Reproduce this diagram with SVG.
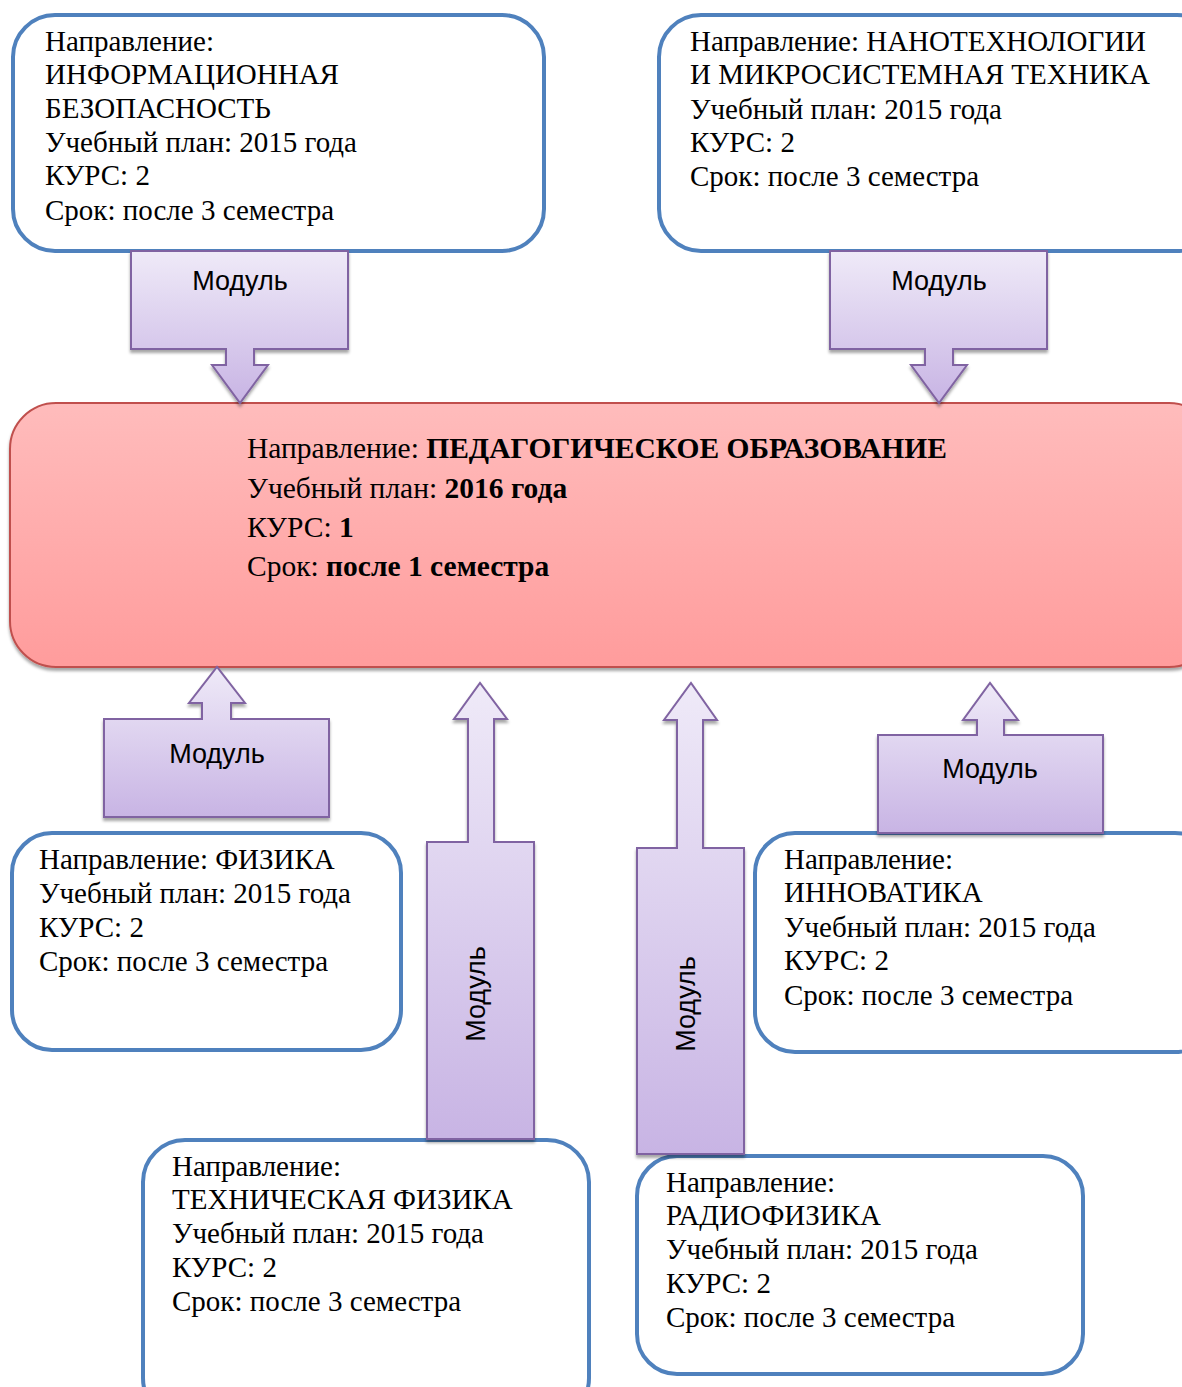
<svg xmlns="http://www.w3.org/2000/svg" width="1182" height="1387" viewBox="0 0 1182 1387">
<defs>
<linearGradient id="gPurple" x1="0" y1="0" x2="0" y2="1">
<stop offset="0" stop-color="#EFEAF8"/>
<stop offset="1" stop-color="#C8B4E4"/>
</linearGradient>
<linearGradient id="gRed" x1="0" y1="0" x2="0" y2="1">
<stop offset="0" stop-color="#FFBCBC"/>
<stop offset="1" stop-color="#FF9C9C"/>
</linearGradient>
<filter id="sh" x="-10%" y="-10%" width="120%" height="130%">
<feDropShadow dx="0" dy="3" stdDeviation="1.5" flood-color="#000" flood-opacity="0.35"/>
</filter>
</defs>
<style>
.box{fill:#FFFFFF;stroke:#4F81BD;stroke-width:4}
.main{fill:url(#gRed);stroke:#C0504D;stroke-width:2;filter:url(#sh)}
.mod{fill:url(#gPurple);stroke:#8064A2;stroke-width:2;stroke-linejoin:miter;filter:url(#sh)}
.t{font-family:"Liberation Serif","Times New Roman",serif;font-size:29px;fill:#000}
.tc{font-size:29.5px}
.b{font-weight:bold}
.m{font-family:"Liberation Sans",Arial,sans-serif;font-size:27px;fill:#000;text-anchor:middle}
</style>
<rect width="1182" height="1387" fill="#FFFFFF"/>

<g id="node-infobez">
<rect class="box" x="13" y="15" width="531" height="236" rx="42"/>
<text class="t" x="45" y="51">Направление:</text>
<text class="t" x="45" y="84">ИНФОРМАЦИОННАЯ</text>
<text class="t" x="45" y="118">БЕЗОПАСНОСТЬ</text>
<text class="t" x="45" y="152">Учебный план: 2015 года</text>
<text class="t" x="45" y="185">КУРС: 2</text>
<text class="t" x="45" y="220">Срок: после 3 семестра</text>
</g>

<g id="node-nano">
<rect class="box" x="659" y="15" width="560" height="236" rx="42"/>
<text class="t" x="690" y="51">Направление: НАНОТЕХНОЛОГИИ</text>
<text class="t" x="690" y="84">И МИКРОСИСТЕМНАЯ ТЕХНИКА</text>
<text class="t" x="690" y="119">Учебный план: 2015 года</text>
<text class="t" x="690" y="152">КУРС: 2</text>
<text class="t" x="690" y="186">Срок: после 3 семестра</text>
</g>

<g id="node-fizika">
<rect class="box" x="12" y="833" width="389" height="217" rx="40"/>
<text class="t" x="39" y="869">Направление: ФИЗИКА</text>
<text class="t" x="39" y="903">Учебный план: 2015 года</text>
<text class="t" x="39" y="937">КУРС: 2</text>
<text class="t" x="39" y="971">Срок: после 3 семестра</text>
</g>

<g id="node-innovatika">
<rect class="box" x="755" y="833" width="460" height="219" rx="40"/>
<text class="t" x="784" y="869">Направление:</text>
<text class="t" x="784" y="902">ИННОВАТИКА</text>
<text class="t" x="784" y="937">Учебный план: 2015 года</text>
<text class="t" x="784" y="970">КУРС: 2</text>
<text class="t" x="784" y="1005">Срок: после 3 семестра</text>
</g>

<g id="node-tehfiz">
<rect class="box" x="143" y="1140" width="446" height="280" rx="42"/>
<text class="t" x="172" y="1176">Направление:</text>
<text class="t" x="172" y="1209">ТЕХНИЧЕСКАЯ ФИЗИКА</text>
<text class="t" x="172" y="1243">Учебный план: 2015 года</text>
<text class="t" x="172" y="1277">КУРС: 2</text>
<text class="t" x="172" y="1311">Срок: после 3 семестра</text>
</g>

<g id="node-radiofiz">
<rect class="box" x="637" y="1156" width="446" height="218" rx="40"/>
<text class="t" x="666" y="1192">Направление:</text>
<text class="t" x="666" y="1225">РАДИОФИЗИКА</text>
<text class="t" x="666" y="1259">Учебный план: 2015 года</text>
<text class="t" x="666" y="1293">КУРС: 2</text>
<text class="t" x="666" y="1327">Срок: после 3 семестра</text>
</g>

<g id="node-ped">
<rect class="main" x="10" y="403" width="1205" height="264" rx="46"/>
<text class="t tc" x="247" y="458">Направление: <tspan class="b">ПЕДАГОГИЧЕСКОЕ ОБРАЗОВАНИЕ</tspan></text>
<text class="t tc" x="247" y="498">Учебный план: <tspan class="b">2016 года</tspan></text>
<text class="t tc" x="247" y="537">КУРС: <tspan class="b">1</tspan></text>
<text class="t tc" x="247" y="576">Срок: <tspan class="b">после 1 семестра</tspan></text>
</g>

<g id="connectors">
<g id="mod-infobez">
<path class="mod" d="M131,251 H348 V349 H254 V365 H268 L240,403 L212,365 H226 V349 H131 Z"/>
<text class="m" x="240" y="290">Модуль</text>
</g>
<g id="mod-nano">
<path class="mod" d="M830,251 H1047 V349 H953 V365 H967 L939,403 L911,365 H925 V349 H830 Z"/>
<text class="m" x="939" y="290">Модуль</text>
</g>
<g id="mod-fizika">
<path class="mod" d="M104,719 H202 V703 H189 L217,667 L245,703 H231 V719 H329 V817 H104 Z"/>
<text class="m" x="217" y="763">Модуль</text>
</g>
<g id="mod-tehfiz">
<path class="mod" d="M427,842 H468 V719 H454 L480,683 L507,719 H494 V842 H534 V1139 H427 Z"/>
<text class="m" transform="translate(476,994) rotate(-90)" y="9">Модуль</text>
</g>
<g id="mod-radiofiz">
<path class="mod" d="M637,848 H677 V720 H664 L691,683 L717,720 H703 V848 H744 V1154 H637 Z"/>
<text class="m" transform="translate(686,1004) rotate(-90)" y="9">Модуль</text>
</g>
<g id="mod-innovatika">
<path class="mod" d="M878,735 H977 V720 H963 L990,683 L1018,720 H1004 V735 H1103 V833 H878 Z"/>
<text class="m" x="990" y="778">Модуль</text>
</g>
</g>
</svg>
